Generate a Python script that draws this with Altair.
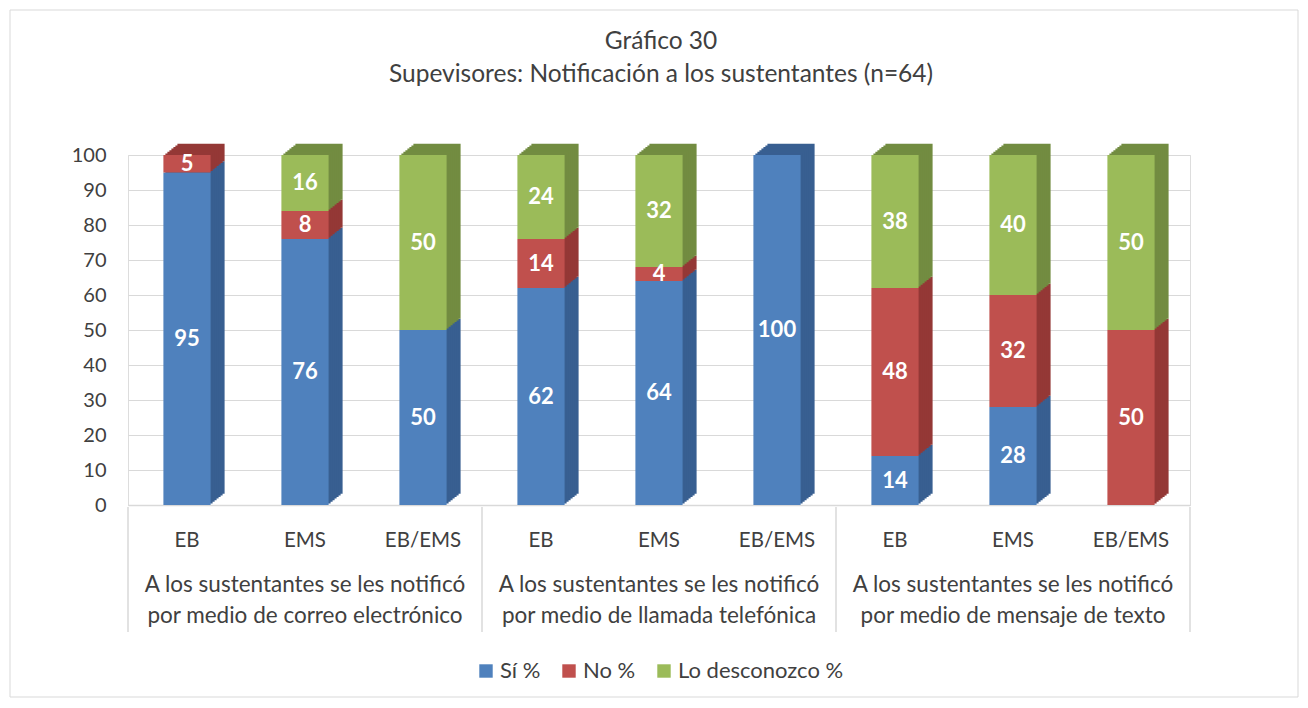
import altair as alt
import pandas as pd

title_lines = ["Gráfico 30", "Supevisores: Notificación a los sustentantes (n=64)"]
groups = [
    "A los sustentantes se les notificó\npor medio de correo electrónico",
    "A los sustentantes se les notificó\npor medio de llamada telefónica",
    "A los sustentantes se les notificó\npor medio de mensaje de texto",
]
subs = ["EB", "EMS", "EB/EMS"]
series = ["Sí %", "No %", "Lo desconozco %"]
si_vals = [95, 76, 50, 62, 64, 100, 14, 28, 0]
no_vals = [5, 8, 0, 14, 4, 0, 48, 32, 50]
ld_vals = [0, 16, 50, 24, 32, 0, 38, 40, 50]
y_ticks = [0, 10, 20, 30, 40, 50, 60, 70, 80, 90, 100]

front_colors = ["#4F81BD", "#C0504D", "#9BBB59"]
side_colors = ["#385F91", "#943836", "#728C41"]
FONT = "Lato"
TXT = "#404040"

keys = []
rows = []
for gi, g in enumerate(groups):
    for si, s in enumerate(subs):
        k = f"{gi}|{s}"
        keys.append(k)
        idx = gi * 3 + si
        for order, (name, vals) in enumerate(zip(series, [si_vals, no_vals, ld_vals])):
            rows.append({"key": k, "series": name, "order": order, "value": vals[idx]})
df = pd.DataFrame(rows)

grp_df = pd.DataFrame({"key": [keys[i * 3 + 1] for i in range(3)], "label": groups})
sep_df = pd.DataFrame({"key": [keys[0], keys[3], keys[6]]})
sep_end_df = pd.DataFrame({"key": [keys[8]]})
title_df = pd.DataFrame({"line": title_lines, "n": [0, 1]})

W, H = 1062, 350
STEP = W / 9.0
HALF_GAP = 0.3 * STEP

xscale = alt.Scale(domain=keys, paddingInner=0.6, paddingOuter=0.3)
x_axis = alt.Axis(title=None, labelExpr="split(datum.label,'|')[1]", labelFontSize=20.5,
                  labelFont=FONT, labelColor=TXT, labelPadding=25, labelAngle=0,
                  ticks=False, domain=True, domainColor="#d9d9d9", domainWidth=1.5)
yscale = alt.Scale(domain=[0, 100])
y_axis = alt.Axis(title=None, values=y_ticks, tickCount=11, labelFontSize=20, labelFont=FONT,
                  labelColor=TXT, labelPadding=22, ticks=False, domain=False,
                  grid=True, gridColor="#d9d9d9", gridWidth=1.2, labelOverlap=False)

x_enc = alt.X("key:N", sort=keys, scale=xscale, axis=x_axis)
y_enc = alt.Y("value:Q", stack="zero", scale=yscale, axis=y_axis)

base = alt.Chart(df)

depth_layers = []
N_DEPTH = 7
for i in range(N_DEPTH, 0, -1):
    depth_layers.append(
        base.mark_bar(xOffset=2.0 * i, yOffset=-1.6 * i).encode(
            x=x_enc,
            y=y_enc,
            color=alt.Color("series:N", scale=alt.Scale(domain=series, range=side_colors),
                            legend=None),
            order=alt.Order("order:Q"),
        )
    )

front = base.mark_bar().encode(
    x=x_enc,
    y=y_enc,
    color=alt.Color(
        "series:N", scale=alt.Scale(domain=series, range=front_colors),
        legend=alt.Legend(title=None, orient="none", legendX=347, legendY=505,
                          direction="horizontal", symbolType="square", symbolSize=180,
                          labelFontSize=22, labelFont=FONT, labelColor=TXT, labelLimit=400,
                          columnPadding=17, labelOffset=3, symbolStrokeWidth=0),
    ),
    order=alt.Order("order:Q"),
)

labels = base.transform_filter("datum.value > 0").transform_stack(
    stack="value", as_=["y0", "y1"], groupby=["key"], sort=[alt.SortField("order")]
).transform_calculate(mid="(datum.y0 + datum.y1) / 2").mark_text(
    color="white", fontWeight="bold", fontSize=22, font=FONT, baseline="middle"
).encode(
    x=x_enc,
    y=alt.Y("mid:Q", scale=yscale, axis=y_axis),
    text=alt.Text("value:Q"),
)

group_text = alt.Chart(grp_df).mark_text(
    fontSize=22.5, font=FONT, color=TXT, lineBreak="\n", baseline="top", lineHeight=31
).encode(
    x=x_enc,
    y=alt.value(H + 69),
    text="label:N",
)

seps = alt.Chart(sep_df).mark_rule(color="#d9d9d9", strokeWidth=1.5, xOffset=-HALF_GAP).encode(
    x=alt.X("key:N", sort=keys, scale=xscale, bandPosition=0, axis=x_axis),
    y=alt.value(H + 2), y2=alt.value(H + 127),
)
sep_end = alt.Chart(sep_end_df).mark_rule(color="#d9d9d9", strokeWidth=1.5, xOffset=HALF_GAP).encode(
    x=alt.X("key:N", sort=keys, scale=xscale, bandPosition=1, axis=x_axis),
    y=alt.value(H + 2), y2=alt.value(H + 127),
)

title1 = alt.Chart(title_df).transform_filter("datum.n == 0").mark_text(
    fontSize=24.5, font=FONT, color=TXT, baseline="middle"
).encode(x=alt.value(W / 2 + 2), y=alt.value(-113), text="line:N")
title2 = alt.Chart(title_df).transform_filter("datum.n == 1").mark_text(
    fontSize=24.5, font=FONT, color=TXT, baseline="middle"
).encode(x=alt.value(W / 2 + 2), y=alt.value(-80), text="line:N")

frame = alt.Chart(pd.DataFrame({"a": [0]})).mark_rect(
    fill=None, stroke="#d9d9d9", strokeWidth=1
).encode(
    x=alt.value(-118), x2=alt.value(W + 108),
    y=alt.value(-145), y2=alt.value(H + 192),
)

chart = alt.layer(frame, *depth_layers, front, labels, group_text, seps, sep_end,
                  title1, title2).resolve_scale(
    color="independent"
).properties(
    width=W, height=H,
    autosize=alt.AutoSizeParams(type="none"),
    padding={"left": 120, "top": 147, "right": 110, "bottom": 200},
).configure_view(stroke=None).configure(background="white")

chart.save("out.html", embed_options={"renderer": "svg", "actions": False})
